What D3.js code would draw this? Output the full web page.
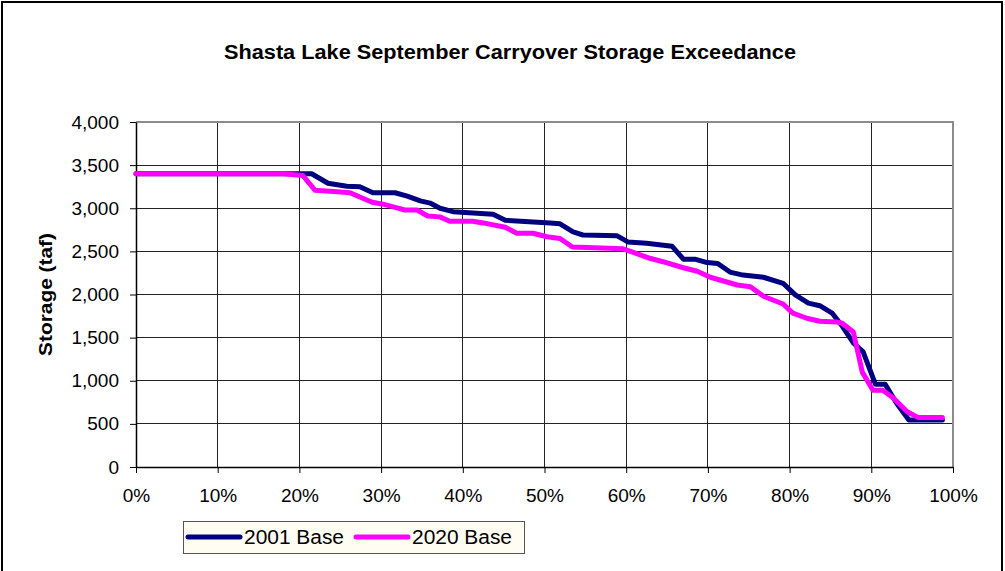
<!DOCTYPE html>
<html>
<head>
<meta charset="utf-8">
<script src="https://cdn.jsdelivr.net/npm/d3@7"></script>
<style>
  html, body { margin: 0; padding: 0; background: #fff; }
  svg text { font-family: "Liberation Sans", Arial, sans-serif; fill: #000; }
</style>
</head>
<body>
<svg id="chart" width="1005" height="571"></svg>
<script>
// ---- data ----
const chartTitle = "Shasta Lake September Carryover Storage Exceedance";
const yTitle = "Storage (taf)";
const seriesNames = ["2001 Base", "2020 Base"];
const seriesColors = ["#000080", "#FF00FF"];

const xTicks = [0, 0.1, 0.2, 0.3, 0.4, 0.5, 0.6, 0.7, 0.8, 0.9, 1.0];
const yTicks = [0, 500, 1000, 1500, 2000, 2500, 3000, 3500, 4000];

// exceedance probability (%) and storage (taf), 2001 Base
const exceed2001 = [0, 21.5, 23.5, 25.8, 27.4, 29, 31.7, 33.2, 34.8, 36, 37.2, 38.8, 43.7, 45.2, 50.7, 51.9, 53.5, 54.7, 58.9, 60.2, 62.5, 65.6, 67, 68.4, 69.9, 71.2, 72.7, 74.3, 76.8, 79.2, 80.7, 82.3, 83.7, 85.2, 86.5, 87.8, 89, 90.5, 91.7, 93.1, 94.6, 98.7];
const storage2001 = [3400, 3400, 3290, 3255, 3250, 3180, 3180, 3140, 3085, 3060, 3000, 2960, 2930, 2860, 2830, 2820, 2725, 2690, 2680, 2610, 2595, 2560, 2410, 2410, 2370, 2360, 2260, 2225, 2200, 2130, 1995, 1900, 1870, 1785, 1625, 1440, 1335, 960, 960, 740, 545, 545];

// exceedance probability (%) and storage (taf), 2020 Base
const exceed2020 = [0, 18, 20.4, 21.9, 24.6, 26.2, 27.4, 28.9, 30.1, 31.5, 32.9, 34.4, 35.7, 37.2, 38.4, 41.2, 42.5, 45.2, 46.6, 48.6, 50.3, 51.9, 53.4, 59.6, 60.7, 62.9, 64.5, 67, 68.7, 70.3, 73.6, 75.2, 76.8, 79.2, 80.4, 82.1, 83.7, 85.8, 86.4, 87.8, 88.9, 90.2, 91.4, 92.7, 94.4, 95.7, 98.7];
const storage2020 = [3400, 3400, 3380, 3210, 3190, 3180, 3130, 3070, 3050, 3015, 2980, 2980, 2910, 2900, 2850, 2850, 2830, 2780, 2710, 2710, 2670, 2650, 2550, 2530, 2495, 2420, 2380, 2310, 2270, 2200, 2110, 2090, 1980, 1890, 1785, 1725, 1690, 1680, 1670, 1565, 1100, 890, 890, 800, 640, 575, 575];

// ---- layout ----
const svg = d3.select("#chart");
const pLeft = 136, pRight = 953, pTop = 122, pBottom = 467;

const x = d3.scaleLinear().domain([0, 1]).range([pLeft, pRight]);
const y = d3.scaleLinear().domain([0, 4000]).range([pBottom, pTop]);

// outer border
svg.append("rect").attr("x", 2).attr("y", 2).attr("width", 1000).attr("height", 640)
  .attr("fill", "#fff").attr("stroke", "#000").attr("stroke-width", 2);

// title
svg.append("text").attr("x", 510).attr("y", 59).attr("text-anchor", "middle")
  .attr("font-size", 20).attr("font-weight", "bold")
  .attr("textLength", 572).attr("lengthAdjust", "spacingAndGlyphs")
  .text(chartTitle);

// plot area background
svg.append("rect").attr("x", pLeft).attr("y", pTop).attr("width", pRight - pLeft).attr("height", pBottom - pTop)
  .attr("fill", "#fff");

// gridlines
const grid = svg.append("g").attr("shape-rendering", "crispEdges");
grid.selectAll(".hg").data(yTicks.filter(d => d > 0 && d < 4000)).join("line")
  .attr("x1", pLeft).attr("x2", pRight).attr("y1", d => y(d)).attr("y2", d => y(d))
  .attr("stroke", "#222").attr("stroke-width", 1);
grid.selectAll(".vg").data(xTicks.filter(d => d > 0 && d < 1)).join("line")
  .attr("y1", pTop).attr("y2", pBottom).attr("x1", d => x(d)).attr("x2", d => x(d))
  .attr("stroke", "#222").attr("stroke-width", 1);

// plot border (top / right gray)
svg.append("path")
  .attr("d", `M${pLeft},${pTop}H${pRight}V${pBottom}`)
  .attr("fill", "none").attr("stroke", "#8c8c8c").attr("stroke-width", 2)
  .attr("shape-rendering", "crispEdges");

// axes
const xAxis = d3.axisBottom(x).tickValues(xTicks).tickFormat(d3.format(".0%")).tickSize(6).tickSizeOuter(0).tickPadding(16);
const yAxis = d3.axisLeft(y).tickValues(yTicks).tickFormat(d3.format(",")).tickSize(6).tickSizeOuter(0).tickPadding(11);

const gx = svg.append("g").attr("transform", `translate(0,${pBottom})`).call(xAxis);
const gy = svg.append("g").attr("transform", `translate(${pLeft},0)`).call(yAxis);
[gx, gy].forEach(g => {
  g.select(".domain").attr("stroke", "#000").attr("stroke-width", 1.5);
  g.selectAll(".tick line").attr("stroke", "#000").attr("stroke-width", 1);
  g.selectAll(".tick text").attr("font-size", 19).attr("font-family", "Liberation Sans, Arial, sans-serif").attr("fill", "#000");
});
gx.selectAll(".tick text").attr("dy", "0.71em");

// y-axis title
svg.append("text").attr("transform", `translate(52,${(pTop + pBottom) / 2}) rotate(-90)`)
  .attr("text-anchor", "middle").attr("font-size", 18).attr("font-weight", "bold")
  .attr("textLength", 123).attr("lengthAdjust", "spacingAndGlyphs")
  .text(yTitle);

// lines
const series = [
  { name: seriesNames[0], color: seriesColors[0], xs: exceed2001, ys: storage2001 },
  { name: seriesNames[1], color: seriesColors[1], xs: exceed2020, ys: storage2020 }
];
const line = d3.line().x(d => x(d[0] / 100)).y(d => y(d[1]));
series.forEach(s => {
  const pts = s.xs.map((v, i) => [v, s.ys[i]]);
  svg.append("path").datum(pts).attr("d", line)
    .attr("fill", "none").attr("stroke", s.color).attr("stroke-width", 5)
    .attr("stroke-linejoin", "round").attr("stroke-linecap", "round");
});

// legend
const lg = svg.append("g");
lg.append("rect").attr("x", 183).attr("y", 521).attr("width", 341).attr("height", 32)
  .attr("fill", "#FFFCF2").attr("stroke", "#555").attr("stroke-width", 1).attr("shape-rendering", "crispEdges");
const legendX = [188, 356];
series.forEach((s, i) => {
  lg.append("line").attr("x1", legendX[i]).attr("x2", legendX[i] + 52).attr("y1", 537).attr("y2", 537)
    .attr("stroke", s.color).attr("stroke-width", 5).attr("stroke-linecap", "round");
  lg.append("text").attr("x", legendX[i] + 56).attr("y", 544).attr("font-size", 20)
    .attr("textLength", 100).attr("lengthAdjust", "spacingAndGlyphs")
    .text(s.name);
});
</script>
</body>
</html>
